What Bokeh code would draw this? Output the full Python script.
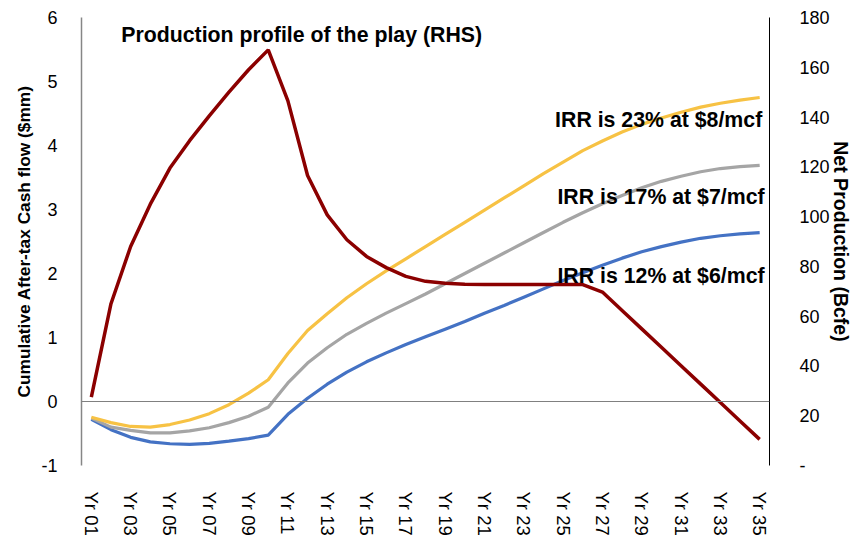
from bokeh.plotting import figure
from bokeh.models import (Range1d, LinearAxis, FixedTicker, Span, Label)
from bokeh.embed import file_html
from bokeh.resources import INLINE

years = ["Yr %02d" % i for i in range(1, 36)]

irr_8 = [-0.245, -0.33, -0.39, -0.40, -0.36, -0.29, -0.19, -0.05, 0.13, 0.34,
         0.75, 1.11, 1.37, 1.62, 1.84, 2.04, 2.23, 2.42, 2.61, 2.80,
         2.99, 3.18, 3.37, 3.56, 3.74, 3.92, 4.07, 4.21, 4.33, 4.43,
         4.52, 4.60, 4.66, 4.71, 4.75]
irr_7 = [-0.26, -0.40, -0.45, -0.49, -0.49, -0.46, -0.41, -0.33, -0.23, -0.09,
         0.29, 0.60, 0.84, 1.05, 1.22, 1.38, 1.53, 1.68, 1.84, 2.00,
         2.16, 2.32, 2.48, 2.64, 2.80, 2.95, 3.09, 3.22, 3.34, 3.44,
         3.52, 3.59, 3.64, 3.67, 3.69]
irr_6 = [-0.28, -0.44, -0.56, -0.63, -0.66, -0.67, -0.655, -0.62, -0.58, -0.525,
         -0.20, 0.05, 0.27, 0.46, 0.62, 0.76, 0.89, 1.01, 1.13, 1.25,
         1.38, 1.50, 1.63, 1.76, 1.89, 2.01, 2.13, 2.24, 2.34, 2.42,
         2.49, 2.55, 2.59, 2.62, 2.64]
production = [27.5, 65, 88, 105, 119.5, 130.5, 140.5, 150, 159, 167,
              146.5, 116.5, 100.7, 90.7, 84, 79.5, 76, 74, 73.2, 72.8,
              72.7, 72.7, 72.7, 72.7, 72.7, 72.7, 69.7, 62.3, 54.9, 47.5,
              40.1, 32.7, 25.3, 17.9, 10.5]

left_ticks = [-1, 0, 1, 2, 3, 4, 5, 6]
left_labels = ["-1", "0", "1", "2", "3", "4", "5", "6"]
right_ticks = [0, 20, 40, 60, 80, 100, 120, 140, 160, 180]
right_labels = ["-", "20", "40", "60", "80", "100", "120", "140", "160", "180"]

FONT = "Liberation Sans"

xs = list(range(1, len(years) + 1))

p = figure(width=865, height=538, x_range=Range1d(0.5, len(years) + 0.5), y_range=Range1d(-1, 6),
           output_backend="svg", toolbar_location=None,
           min_border_left=81, min_border_right=96, min_border_top=17, min_border_bottom=70)
p.outline_line_color = None
p.xgrid.grid_line_color = None
p.ygrid.grid_line_color = None
p.background_fill_color = "white"
p.border_fill_color = "white"

p.extra_y_ranges = {"prod": Range1d(0, 180)}

# x axis
xa = p.xaxis[0]
xa.ticker = FixedTicker(ticks=xs[::2])
xa.major_label_overrides = {x: y for x, y in zip(xs, years)}
xa.axis_line_color = None
xa.major_tick_line_color = None
xa.minor_tick_line_color = None
xa.major_label_orientation = "vertical"
xa.major_label_text_font = FONT
xa.major_label_text_font_size = "18.5px"
xa.major_label_text_color = "black"
xa.major_label_standoff = 20

# left axis
ya = p.yaxis[0]
ya.ticker = FixedTicker(ticks=left_ticks)
ya.major_label_overrides = dict(zip(left_ticks, left_labels))
ya.axis_line_color = "#868686"
ya.axis_line_width = 1.5
ya.major_tick_line_color = None
ya.minor_tick_line_color = None
ya.major_label_text_font = FONT
ya.major_label_text_font_size = "18px"
ya.major_label_text_color = "black"
ya.major_label_standoff = 18
ya.axis_label = "Cumulative After-tax Cash flow ($mm)"
ya.axis_label_text_font = FONT
ya.axis_label_text_font_style = "bold"
ya.axis_label_text_font_size = "17.3px"
ya.axis_label_text_color = "black"
ya.axis_label_standoff = 4

# right axis
ra = LinearAxis(y_range_name="prod", ticker=FixedTicker(ticks=right_ticks))
ra.major_label_overrides = dict(zip(right_ticks, right_labels))
ra.axis_line_color = "black"
ra.axis_line_width = 1
ra.major_tick_line_color = None
ra.minor_tick_line_color = None
ra.major_label_text_font = FONT
ra.major_label_text_font_size = "18px"
ra.major_label_text_color = "black"
ra.major_label_standoff = 24
ra.axis_label = "Net Production (Bcfe)"
ra.axis_label_text_font = FONT
ra.axis_label_text_font_style = "bold"
ra.axis_label_text_font_size = "19.5px"
ra.axis_label_text_color = "black"
ra.axis_label_standoff = -3
p.add_layout(ra, "right")

p.add_layout(Span(location=0, dimension="width", line_color="#808080", line_width=1.2))

p.line(xs, irr_6, line_color="#4472C4", line_width=3.2)
p.line(xs, irr_7, line_color="#A5A5A5", line_width=3.2)
p.line(xs, irr_8, line_color="#F7C244", line_width=3.2)
p.line(xs, production, y_range_name="prod", line_color="#8B0000", line_width=3.5)

def lab(text, x, y, align):
    p.add_layout(Label(x=x, y=y, text=text, text_align=align, text_baseline="alphabetic",
                       text_font=FONT, text_font_style="bold", text_font_size="21.3px",
                       text_color="black"))

lab("Production profile of the play (RHS)", 2.52, 5.72, "left")
lab("IRR is 23% at $8/mcf", 35.13, 4.40, "right")
lab("IRR is 17% at $7/mcf", 35.25, 3.19, "right")
lab("IRR is 12% at $6/mcf", 35.25, 1.96, "right")

open("out.html", "w").write(file_html(p, INLINE))
